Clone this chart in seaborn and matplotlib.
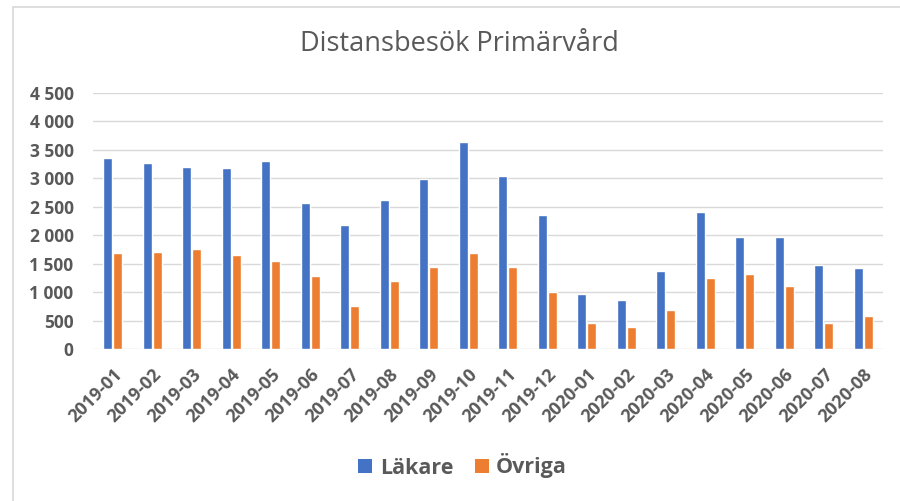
import matplotlib
matplotlib.use("Agg")
import matplotlib.pyplot as plt
import seaborn as sns
import pandas as pd
from matplotlib.lines import Line2D
from matplotlib.patches import Patch
from matplotlib.ticker import FuncFormatter, MultipleLocator

months = ["2019-01", "2019-02", "2019-03", "2019-04", "2019-05", "2019-06",
          "2019-07", "2019-08", "2019-09", "2019-10", "2019-11", "2019-12",
          "2020-01", "2020-02", "2020-03", "2020-04", "2020-05", "2020-06",
          "2020-07", "2020-08"]
lakare = [3350, 3275, 3200, 3175, 3300, 2565, 2180, 2620, 2990, 3630,
          3045, 2355, 965, 865, 1370, 2415, 1960, 1960, 1475, 1425]
ovriga = [1680, 1700, 1750, 1650, 1550, 1290, 760, 1190, 1450, 1680,
          1450, 1010, 455, 380, 685, 1245, 1320, 1115, 455, 585]
series = ["Läkare", "Övriga"]
colors = ["#4472C4", "#ED7D31"]
title = "Distansbesök Primärvård"

df = pd.DataFrame({
    "month": months * 2,
    "value": lakare + ovriga,
    "serie": [series[0]] * len(months) + [series[1]] * len(months),
})

sns.set_theme(style="white")
plt.rcParams["font.family"] = ["Open Sans", "DejaVu Sans"]
txt = "#595959"
grid = "#D9D9D9"

fig = plt.figure(figsize=(9, 5.01), dpi=100)
ax = fig.add_axes([93/900, 1-349/501, 790/900, 256/501])

sns.barplot(data=df, x="month", y="value", hue="serie", palette=colors,
            width=0.52, gap=0.12, ax=ax, legend=False, saturation=1)

ax.set_ylim(0, 4500)
ax.set_xlim(-0.5, len(months) - 0.5)
ax.yaxis.set_major_locator(MultipleLocator(500))
ax.yaxis.set_major_formatter(FuncFormatter(lambda v, p: f"{int(v):,}".replace(",", " ")))
ax.grid(axis="y", color=grid, linewidth=1.0)
ax.set_axisbelow(True)
for s in ax.spines.values():
    s.set_visible(False)
ax.set_xlabel("")
ax.set_ylabel("")
ax.tick_params(axis="y", length=0, pad=14, labelsize=12.5, labelcolor=txt)
ax.tick_params(axis="x", length=0, pad=12, labelsize=13, labelcolor=txt)
for lab in ax.get_yticklabels():
    lab.set_fontweight("bold")
for lab in ax.get_xticklabels():
    lab.set_fontweight("bold")
    lab.set_rotation(45)
    lab.set_ha("right")
    lab.set_rotation_mode("anchor")

fig.text(0.51, 1 - 44/501, title, ha="center", va="center",
         fontsize=19.5, color=txt)

handles = [Patch(facecolor=c, edgecolor="none") for c in colors]
leg = fig.legend(handles, series, loc="center", bbox_to_anchor=(0.514, 1 - 466/501),
                 ncol=2, frameon=False, handlelength=0.65, handleheight=0.65,
                 handletextpad=0.35, columnspacing=1.0,
                 prop={"size": 15.5, "weight": "bold"})
for t in leg.get_texts():
    t.set_color(txt)

# chart area frame (left and top edges visible)
fig.add_artist(Line2D([13/900, 13/900], [0, 1 - 7/501], transform=fig.transFigure,
                      color="#D9D9D9", linewidth=1.2))
fig.add_artist(Line2D([13/900, 1], [1 - 7/501, 1 - 7/501], transform=fig.transFigure,
                      color="#D9D9D9", linewidth=1.2))

fig.savefig("out.png", dpi=100, facecolor="white")
